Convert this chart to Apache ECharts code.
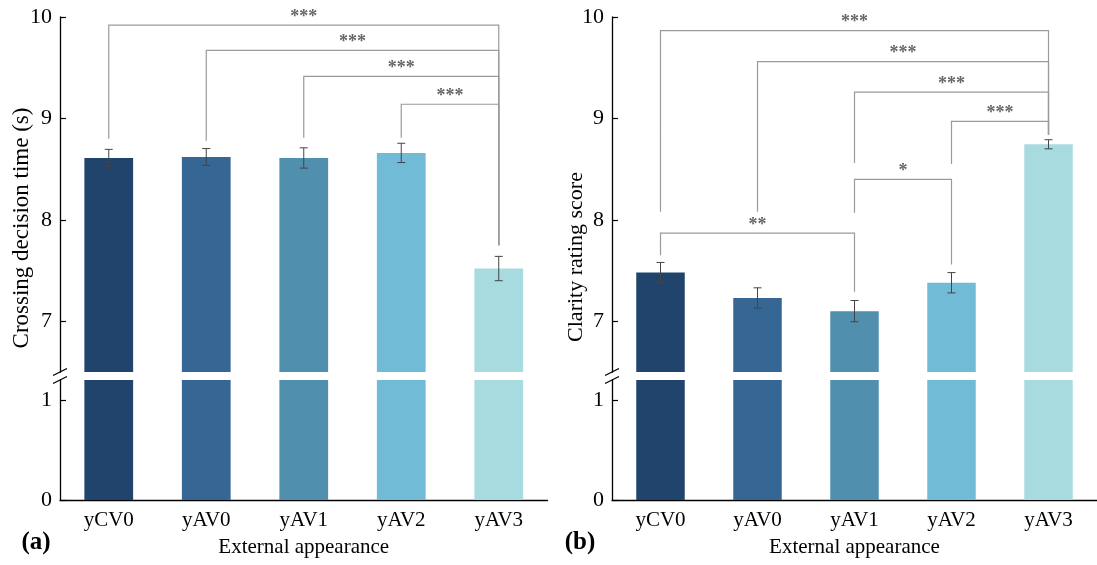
<!DOCTYPE html>
<html>
<head>
<meta charset="utf-8">
<script src="https://cdn.jsdelivr.net/npm/echarts@6/dist/echarts.min.js"></script>
<style>
html,body{margin:0;padding:0;background:#fff;}
#c{width:1097px;height:565px;}
</style>
</head>
<body>
<div id="c"></div>
<script>
// ---------- data ----------
var categories = ['yCV0', 'yAV0', 'yAV1', 'yAV2', 'yAV3'];
var barColors = ['#20446B', '#366794', '#5090AE', '#72BBD6', '#A8DBE0'];

// panel (a) Crossing decision time (s)
var timeMean = [8.61, 8.62, 8.61, 8.66, 7.52];
var timeErr = [0.085, 0.083, 0.10, 0.095, 0.12];
var timePairs = [[0, 4], [1, 4], [2, 4], [3, 4]];
var timeLevels = [9.92, 9.67, 9.415, 9.14];
var timeLeftEnds = [8.80, 8.78, 8.81, 8.81];
var timeRightEnds = [7.75, 7.75, 7.75, 7.75];
var timeMarks = ['***', '***', '***', '***'];

// panel (b) Clarity rating score
var clarityMean = [7.48, 7.23, 7.10, 7.38, 8.745];
var clarityErr = [0.10, 0.10, 0.105, 0.10, 0.045];
var clarityPairs = [[0, 4], [1, 4], [2, 4], [3, 4], [2, 3], [0, 2]];
var clarityLevels = [9.865, 9.56, 9.26, 8.97, 8.40, 7.87];
var clarityLeftEnds = [8.08, 8.08, 8.56, 8.55, 8.07, 7.65];
var clarityRightEnds = [8.84, 8.84, 8.84, 8.84, 7.56, 7.29];
var clarityMarks = ['***', '***', '***', '***', '*', '**'];

// axis ranges / ticks
var upperRange = [6.5, 10];
var lowerRange = [0, 1.2];
var upperTicks = [7, 8, 9, 10];
var lowerTicks = [0, 1];

// ---------- chart ----------
var FONT = '"Liberation Serif", "Times New Roman", serif';
var chart = echarts.init(document.getElementById('c'), null, {renderer: 'canvas'});

function barData(vals) {
  return vals.map(function (v, i) { return {value: v, itemStyle: {color: barColors[i]}}; });
}
function errData(mean, err) {
  return mean.map(function (m, i) { return [i, m, err[i]]; });
}
function bracketData(pairs, levels, lefts, rights) {
  return pairs.map(function (p, k) { return [p[0], levels[k], p[1], lefts[k], rights[k]]; });
}

function errRender(params, api) {
  var x = api.value(0), m = api.value(1), e = api.value(2);
  var top = api.coord([x, m + e]);
  var bot = api.coord([x, m - e]);
  var hw = 4;
  var st = {stroke: '#444', lineWidth: 1};
  return {
    type: 'group',
    children: [
      {type: 'line', shape: {x1: top[0], y1: top[1], x2: bot[0], y2: bot[1]}, style: st},
      {type: 'line', shape: {x1: top[0] - hw, y1: top[1], x2: top[0] + hw, y2: top[1]}, style: st},
      {type: 'line', shape: {x1: bot[0] - hw, y1: bot[1], x2: bot[0] + hw, y2: bot[1]}, style: st}
    ]
  };
}

function makeBracketRender(marks) {
  return function (params, api) {
    var i = api.value(0), lvl = api.value(1), j = api.value(2), le = api.value(3), re = api.value(4);
    var a = api.coord([i, le]);
    var b = api.coord([i, lvl]);
    var c = api.coord([j, lvl]);
    var d = api.coord([j, re]);
    return {
      type: 'group',
      children: [
        {type: 'polyline', shape: {points: [a, b, c, d]}, style: {stroke: '#9a9a9a', lineWidth: 1.2, fill: null}},
        {type: 'text', x: (b[0] + c[0]) / 2, y: b[1] - 8,
          style: {text: marks[params.dataIndex], fill: '#666', font: 'bold 18px ' + FONT, align: 'center', verticalAlign: 'middle'}}
      ]
    };
  };
}

function breakRender(where) {
  return function (params, api) {
    var cs = params.coordSys;
    var x0 = cs.x;
    var y0 = where === 'bottom' ? cs.y + cs.height : cs.y;
    return {
      type: 'line',
      shape: {x1: x0 - 7, y1: y0 + 3.5, x2: x0 + 7, y2: y0 - 3.5},
      style: {stroke: '#000', lineWidth: 1.3}
    };
  };
}

var gridW = 487.5;
var grids = [
  {left: 60, top: 17, width: gridW, height: 355},
  {left: 60, top: 380, width: gridW, height: 120},
  {left: 612, top: 17, width: gridW, height: 355},
  {left: 612, top: 380, width: gridW, height: 120}
];

function upperX(gi) {
  return {type: 'category', gridIndex: gi, data: categories, axisLine: {show: false},
    axisTick: {show: false}, axisLabel: {show: false}, splitLine: {show: false}};
}
function lowerX(gi) {
  return {type: 'category', gridIndex: gi, data: categories,
    axisLine: {lineStyle: {color: '#000', width: 1.3}},
    axisTick: {inside: true, length: 5, lineStyle: {color: '#000', width: 1.2}},
    axisLabel: {color: '#000', fontFamily: FONT, fontSize: 21, margin: 10},
    name: 'External appearance', nameLocation: 'middle', nameGap: 37,
    nameTextStyle: {color: '#000', fontFamily: FONT, fontSize: 21}};
}
function yAx(gi, range, ticks) {
  return {type: 'value', gridIndex: gi, min: range[0], max: range[1],
    axisLine: {show: true, lineStyle: {color: '#000', width: 1.3}},
    axisTick: {show: true, inside: true, length: 6, customValues: ticks, lineStyle: {color: '#000', width: 1.2}},
    axisLabel: {show: true, customValues: ticks, color: '#000', fontFamily: FONT, fontSize: 22, margin: 8},
    splitLine: {show: false}};
}

var series = [];
function addPanel(up, low, mean, err, bdata, marks) {
  [up, low].forEach(function (g) {
    series.push({type: 'bar', xAxisIndex: g, yAxisIndex: g, data: barData(mean), barWidth: '50%',
      clip: true, silent: true, z: 2});
  });
  series.push({type: 'custom', xAxisIndex: up, yAxisIndex: up, data: errData(mean, err),
    renderItem: errRender, z: 5, silent: true});
  series.push({type: 'custom', xAxisIndex: up, yAxisIndex: up, data: bdata,
    renderItem: makeBracketRender(marks), z: 4, silent: true});
  series.push({type: 'custom', xAxisIndex: up, yAxisIndex: up, data: [[0, 7]],
    renderItem: breakRender('bottom'), z: 6, silent: true});
  series.push({type: 'custom', xAxisIndex: low, yAxisIndex: low, data: [[0, 0.5]],
    renderItem: breakRender('top'), z: 6, silent: true});
}
addPanel(0, 1, timeMean, timeErr, bracketData(timePairs, timeLevels, timeLeftEnds, timeRightEnds), timeMarks);
addPanel(2, 3, clarityMean, clarityErr, bracketData(clarityPairs, clarityLevels, clarityLeftEnds, clarityRightEnds), clarityMarks);

var option = {
  animation: false,
  backgroundColor: '#fff',
  grid: grids,
  xAxis: [upperX(0), lowerX(1), upperX(2), lowerX(3)],
  yAxis: [yAx(0, upperRange, upperTicks), yAx(1, lowerRange, lowerTicks), yAx(2, upperRange, upperTicks), yAx(3, lowerRange, lowerTicks)],
  series: series,
  graphic: [
    {type: 'text', x: 22, y: 228, rotation: Math.PI / 2,
      style: {text: 'Crossing decision time (s)', fill: '#000', font: '23px ' + FONT, align: 'center', verticalAlign: 'middle'}},
    {type: 'text', x: 576, y: 257, rotation: Math.PI / 2,
      style: {text: 'Clarity rating score', fill: '#000', font: '22px ' + FONT, align: 'center', verticalAlign: 'middle'}},
    {type: 'text', x: 36, y: 543,
      style: {text: '(a)', fill: '#000', font: 'bold 25px ' + FONT, align: 'center', verticalAlign: 'middle'}},
    {type: 'text', x: 580, y: 543,
      style: {text: '(b)', fill: '#000', font: 'bold 25px ' + FONT, align: 'center', verticalAlign: 'middle'}}
  ]
};
chart.setOption(option);
</script>
</body>
</html>
